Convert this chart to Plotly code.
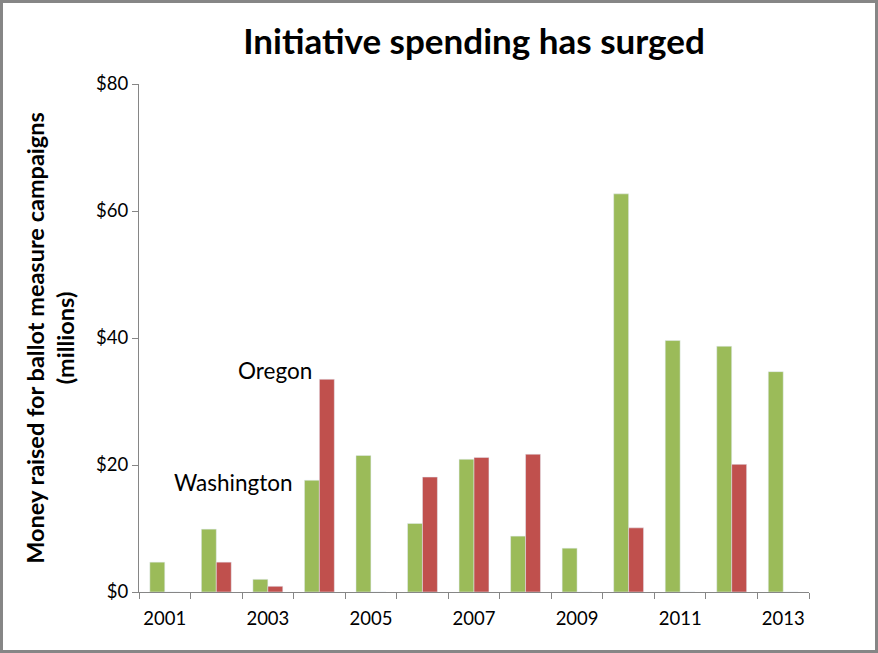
import plotly.graph_objects as go

years = list(range(2001, 2014))
washington = [4.7, 9.9, 2.0, 17.6, 21.5, 10.8, 20.9, 8.8, 6.9, 62.7, 39.6, 38.7, 34.7]
oregon = [0, 4.7, 0.9, 33.5, 0, 18.1, 21.2, 21.7, 0, 10.1, 0, 20.1, 0]
y_ticks = [0, 20, 40, 60, 80]
y_labels = ["$" + str(v) for v in y_ticks]

W, H = 878, 653
ml, mr, mt, mb = 139, 69, 84, 61
pw, ph = W - ml - mr, H - mt - mb

font = "Lato, Calibri, Carlito, sans-serif"
axis_col = "#868686"

fig = go.Figure()
fig.add_trace(go.Bar(x=years, y=washington, name="Washington", marker_color="#9BBB59"))
fig.add_trace(go.Bar(x=years, y=oregon, name="Oregon", marker_color="#C0504D"))

fig.update_layout(
    width=W, height=H,
    margin=dict(l=ml, r=mr, t=mt, b=mb),
    paper_bgcolor="white", plot_bgcolor="white",
    showlegend=False,
    barmode="group", bargap=0.42, bargroupgap=0,
    font=dict(family=font, color="black"),
    title=dict(text="<b>Initiative spending has surged</b>", x=0.5, xref="paper",
               xanchor="center", y=1 - 42 / H, yanchor="middle",
               font=dict(size=35, family=font)),
)

fig.update_xaxes(
    range=[2000.5, 2013.5], tickvals=years[::2], ticktext=[str(y) for y in years[::2]],
    ticks="", showline=True, linecolor=axis_col, linewidth=1.3, showgrid=False,
    zeroline=False, tickfont=dict(size=18.5), ticklabelstandoff=10,
    minor=dict(tick0=2000.5, dtick=1, ticks="outside", ticklen=6, tickcolor=axis_col, tickwidth=1.3, showgrid=False),
)
fig.update_yaxes(
    range=[0, 80], tickvals=y_ticks, ticktext=y_labels, ticks="outside", ticklen=6,
    tickcolor=axis_col, tickwidth=1.3, showline=True, linecolor=axis_col, linewidth=1.3,
    showgrid=False, zeroline=False, tickfont=dict(size=18.5),
    title=dict(text="<b>Money raised for ballot measure campaigns<br>(millions)</b>",
               font=dict(size=23.5), standoff=14),
)

# series labels placed beside the 2004 bars
fig.add_annotation(x=2003.9, y=34.9, xref="x", yref="y", text="Oregon", showarrow=False,
                   xanchor="right", yanchor="middle", font=dict(size=22.5))
fig.add_annotation(x=2003.52, y=17.2, xref="x", yref="y", text="Washington", showarrow=False,
                   xanchor="right", yanchor="middle", font=dict(size=22.5))

# grey frame round the whole chart
fig.add_shape(type="rect", xref="paper", yref="paper",
              x0=(1.5 - ml) / pw, x1=(W - 1.5 - ml) / pw,
              y0=(1.5 - mb) / ph, y1=(H - 1.5 - mb) / ph,
              line=dict(color=axis_col, width=3), layer="above")

fig.write_html("out.html", config={"displayModeBar": False},
               post_script="document.body.style.margin='0';")
